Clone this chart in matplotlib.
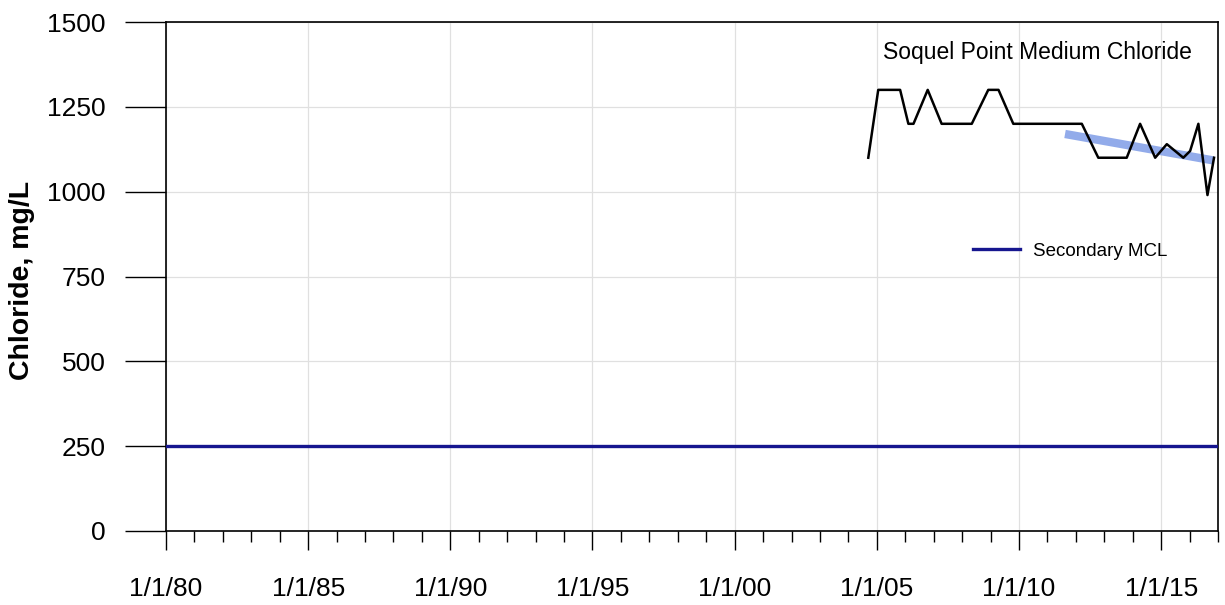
import matplotlib
matplotlib.use("Agg")
import matplotlib.pyplot as plt
from matplotlib.ticker import MultipleLocator, FuncFormatter

plt.rcParams['font.family'] = ['Liberation Sans', 'DejaVu Sans']

# sample dates (decimal years) and chloride values, mg/L
years = [2004.70, 2005.05, 2005.82, 2006.11, 2006.29, 2006.79, 2007.28,
         2008.34, 2008.92, 2009.28, 2009.80, 2012.21, 2012.79, 2013.79,
         2014.26, 2014.79, 2015.20, 2015.78, 2016.02, 2016.31, 2016.63,
         2016.86]
chloride = [1100, 1300, 1300, 1200, 1200, 1300, 1200,
            1200, 1300, 1300, 1200, 1200, 1100, 1100,
            1200, 1100, 1140, 1100, 1120, 1200, 990,
            1100]

trend_years = [2011.62, 2016.84]
trend_vals = [1170, 1092]

mcl = 250
xmin, xmax = 1980, 2017

fig = plt.figure(figsize=(12.25, 6.05), dpi=100)
ax = fig.add_axes([166/1225, 74/605, (1218-166)/1225, (531-22)/605])

ax.grid(True, which='major', color='#e0e0e0', lw=0.9)
ax.axhline(mcl, color='#16168f', lw=2.4, zorder=3)
ax.plot(trend_years, trend_vals, color='#86a2e8', lw=6, alpha=0.9,
        solid_capstyle='butt', zorder=3)
ax.plot(years, chloride, color='black', lw=1.8, zorder=4)

ax.set_xlim(xmin, xmax)
ax.set_ylim(0, 1500)
ax.yaxis.set_major_locator(MultipleLocator(250))
ax.xaxis.set_major_locator(MultipleLocator(5))
ax.xaxis.set_minor_locator(MultipleLocator(1))
ax.xaxis.set_major_formatter(FuncFormatter(lambda v, p: "1/1/%02d" % (int(round(v)) % 100)))

ax.tick_params(axis='y', length=29.5, width=1, pad=14, labelsize=19)
ax.tick_params(axis='x', which='major', length=14, width=1, pad=19, labelsize=19)
ax.tick_params(axis='x', which='minor', length=8, width=1)
for s in ax.spines.values():
    s.set_linewidth(1.2)

ax.text(0.975, 0.94, "Soquel Point Medium Chloride", transform=ax.transAxes,
        ha='right', va='center', fontsize=16.5)

# legend entry
ax.plot([0.767, 0.812], [0.555, 0.555], transform=ax.transAxes,
        color='#16168f', lw=2.4)
ax.text(0.824, 0.549, "Secondary MCL", transform=ax.transAxes,
        ha='left', va='center', fontsize=13.5)

fig.text(22/1225, (605-280)/605, "Chloride, mg/L", rotation=90,
         ha='center', va='center', fontsize=20.5, fontweight='bold')

fig.savefig("out.png", dpi=100)
